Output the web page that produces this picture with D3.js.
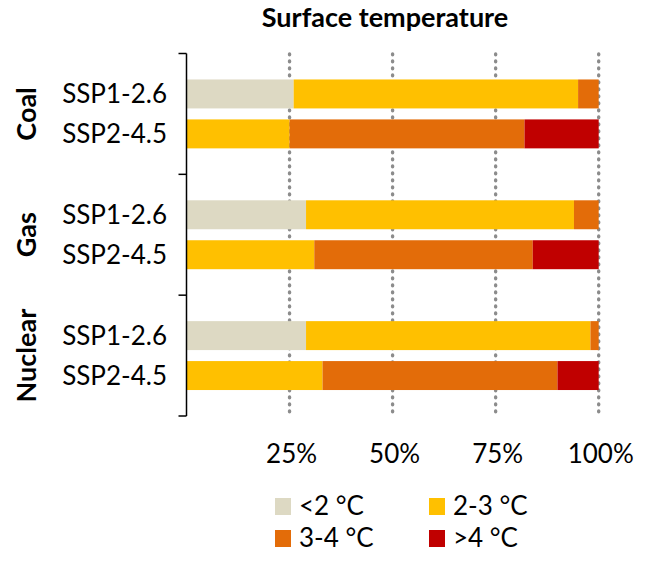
<!DOCTYPE html>
<html><head><meta charset="utf-8">
<script src="https://cdn.jsdelivr.net/npm/d3@7"></script>
<style>body{margin:0;background:#fff}svg{display:block}text{font-family:Lato,"Open Sans",sans-serif;fill:#000}</style>
</head><body><svg id="c" width="654" height="562"></svg>
<script>
const groups = ["Coal", "Gas", "Nuclear"];
const scenarios = ["SSP1-2.6", "SSP2-4.5"];
const classes = ["<2 °C", "2-3 °C", "3-4 °C", ">4 °C"];
const colors = ["#DDD9C3", "#FFC000", "#E36C09", "#C00000"];
const below2 = [26, 0, 29, 0, 29, 0];
const from2to3 = [69, 25, 65, 31, 69, 33];
const from3to4 = [5, 57, 6, 53, 2, 57];
const above4 = [0, 18, 0, 16, 0, 10];
const ticks = [25, 50, 75, 100];
const title = "Surface temperature";

const rows = [];
groups.forEach((g, gi) => scenarios.forEach((s, si) => {
  const i = gi * 2 + si;
  rows.push({group: g, scen: s, vals: [below2[i], from2to3[i], from3to4[i], above4[i]]});
}));

const svg = d3.select("#c");
const x = d3.scaleLinear().domain([0, 100]).range([186.5, 598.7]);
const yG = d3.scaleBand().domain(groups).range([53.5, 416]);
const yS = d3.scaleBand().domain(scenarios).range([0, yG.bandwidth()]).paddingInner(0.275).paddingOuter(0.65);

// title
svg.append("text").attr("x", 385).attr("y", 26.5).attr("text-anchor", "middle")
  .style("font-size", "27px").style("font-weight", "bold").text(title);

// gridlines
svg.append("g").selectAll("line").data(ticks).join("line")
  .attr("x1", d => x(d)).attr("x2", d => x(d)).attr("y1", 54).attr("y2", 412)
  .attr("stroke", "#8c8c8c").attr("stroke-width", 3.4).attr("stroke-linecap", "round")
  .attr("stroke-dasharray", "0.8,6.2");

// bars
const stack = d3.stack().keys([0, 1, 2, 3]).value((d, k) => d.vals[k]);
const series = stack(rows);
svg.append("g").selectAll("g").data(series).join("g")
  .attr("fill", (d, i) => colors[i])
  .selectAll("rect").data(d => d).join("rect")
  .attr("x", d => x(d[0])).attr("width", d => x(d[1]) - x(d[0]))
  .attr("y", d => yG(d.data.group) + yS(d.data.scen)).attr("height", yS.bandwidth());

// axis
const ax = svg.append("g").attr("stroke", "#000").attr("stroke-width", 1.5);
ax.append("line").attr("x1", x(0)).attr("x2", x(0)).attr("y1", yG.range()[0]).attr("y2", yG.range()[1]);
const bounds = groups.map(g => yG(g)).concat([yG.range()[1]]);
ax.selectAll("line.t").data(bounds).join("line").attr("class", "t")
  .attr("x1", x(0) - 8).attr("x2", x(0)).attr("y1", d => d).attr("y2", d => d);

// scenario labels
svg.append("g").selectAll("text").data(rows).join("text")
  .attr("x", 167).attr("y", d => yG(d.group) + yS(d.scen) + yS.bandwidth() / 2 + 9)
  .attr("text-anchor", "end").style("font-size", "26px").text(d => d.scen);

// group labels
svg.append("g").selectAll("text").data(groups).join("text")
  .attr("transform", d => `translate(36,${yG(d) + yG.bandwidth() / 2}) rotate(-90)`)
  .attr("text-anchor", "middle").style("font-size", "27px").style("font-weight", "bold").text(d => d);

// x tick labels
svg.append("g").selectAll("text").data(ticks).join("text")
  .attr("x", d => x(d) + 2).attr("y", 463).attr("text-anchor", "middle")
  .style("font-size", "26px").text(d => d + "%");

// legend
const lg = svg.append("g");
const lx = [275, 429], ly = [498, 530];
classes.forEach((c, i) => {
  const gx = lx[i % 2], gy = ly[Math.floor(i / 2)];
  lg.append("rect").attr("x", gx).attr("y", gy).attr("width", 16).attr("height", 17).attr("fill", colors[i]);
  lg.append("text").attr("x", gx + 24).attr("y", gy + 17).style("font-size", "26px").text(c);
});
</script></body></html>
